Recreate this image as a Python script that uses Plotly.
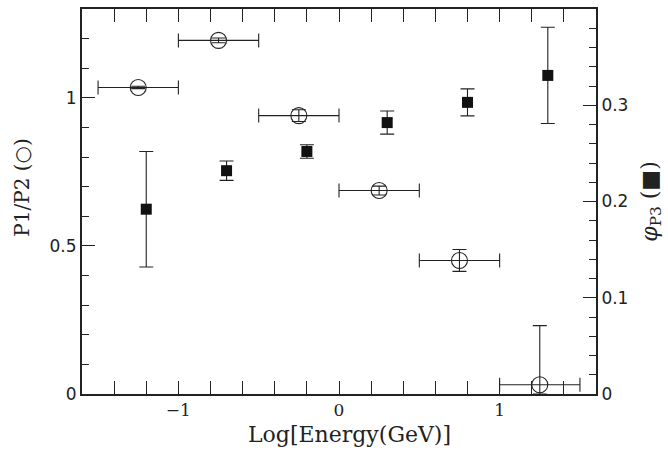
import plotly.graph_objects as go

# P1/P2 ratio (open circles, left axis)
ratio_x = [-1.25, -0.75, -0.25, 0.25, 0.75, 1.25]
ratio_y = [1.035, 1.194, 0.940, 0.687, 0.451, 0.031]
ratio_xerr = [0.25, 0.25, 0.25, 0.25, 0.25, 0.25]
ratio_yerr_plus = [0.004, 0.008, 0.02, 0.015, 0.037, 0.20]
ratio_yerr_minus = [0.004, 0.008, 0.02, 0.015, 0.037, 0.031]

# phase of P3 (filled squares, right axis)
phase_x = [-1.2, -0.7, -0.2, 0.3, 0.8, 1.3]
phase_y = [0.192, 0.232, 0.252, 0.282, 0.303, 0.331]
phase_yerr = [0.060, 0.010, 0.007, 0.012, 0.014, 0.050]

x_ticks = [-1, 0, 1]
left_ticks = [0, 0.5, 1]
right_ticks = [0, 0.1, 0.2, 0.3]

ink = '#222222'
serif = 'DejaVu Serif'
sans = 'DejaVu Sans'

fig = go.Figure()

fig.add_trace(go.Scatter(
    x=ratio_x, y=ratio_y, mode='markers', name='P1/P2',
    marker={'symbol': 'circle-open', 'size': 16, 'color': ink,
            'line': {'width': 1.1, 'color': ink}},
    error_x={'type': 'data', 'array': ratio_xerr, 'color': ink,
             'thickness': 1.1, 'width': 7},
    error_y={'type': 'data', 'symmetric': False, 'array': ratio_yerr_plus,
             'arrayminus': ratio_yerr_minus, 'color': ink,
             'thickness': 1.1, 'width': 7},
))

fig.add_trace(go.Scatter(
    x=phase_x, y=phase_y, mode='markers', name='phi P3', yaxis='y2',
    marker={'symbol': 'square', 'size': 11, 'color': '#111111'},
    error_y={'type': 'data', 'array': phase_yerr, 'color': ink,
             'thickness': 1.1, 'width': 7},
))

axis_common = dict(showline=True, linecolor=ink, linewidth=2, ticks='inside',
                   tickcolor=ink, tickwidth=1.2, ticklen=13, showgrid=False,
                   zeroline=False, automargin=False)

fig.update_layout(
    width=668, height=460,
    margin={'l': 82, 'r': 72, 't': 9, 'b': 66},
    paper_bgcolor='white', plot_bgcolor='white',
    showlegend=False,
    xaxis=dict(axis_common, range=[-1.6, 1.6], tickvals=x_ticks, mirror='allticks',
               minor={'dtick': 0.2, 'ticklen': 7, 'ticks': 'inside',
                      'tickcolor': ink, 'tickwidth': 1.2},
               tickfont={'family': serif, 'size': 17, 'color': ink}),
    yaxis=dict(axis_common, range=[0, 1.3], tickvals=left_ticks,
               minor={'dtick': 0.1, 'ticklen': 7, 'ticks': 'inside',
                      'tickcolor': ink, 'tickwidth': 1.2},
               tickfont={'family': sans, 'size': 17, 'color': ink}),
    yaxis2=dict(axis_common, range=[0, 0.4], tickvals=right_ticks,
                overlaying='y', side='right',
                minor={'dtick': 0.02, 'ticklen': 7, 'ticks': 'inside',
                       'tickcolor': ink, 'tickwidth': 1.2},
                tickfont={'family': sans, 'size': 17, 'color': ink},
                title={'text': '<i>φ</i><sub>P3</sub> (■)', 'standoff': 14,
                       'font': {'family': serif, 'size': 22, 'color': ink}}),
)

# axis titles placed as annotations to follow the original offsets
fig.add_annotation(text='Log[Energy(GeV)]', xref='paper', yref='paper',
                   x=0.521, y=-0.105, xanchor='center', yanchor='middle',
                   showarrow=False, font={'family': serif, 'size': 22, 'color': ink})
fig.add_annotation(text='P1/P2 (○)', xref='paper', yref='paper',
                   x=-0.117, y=0.538, xanchor='center', yanchor='middle', textangle=-90,
                   showarrow=False, font={'family': serif, 'size': 20, 'color': ink})

fig.write_html('out.html', config={'displayModeBar': False},
               post_script="document.body.style.margin='0px';")
